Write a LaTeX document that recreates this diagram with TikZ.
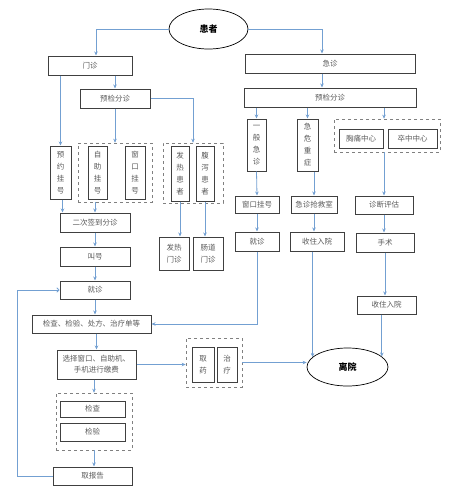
\documentclass[tikz,border=0pt]{standalone}
\usepackage{fontspec}
\setmainfont{Noto Sans CJK SC}
\usetikzlibrary{arrows.meta,shapes.geometric}
\definecolor{boxgray}{RGB}{64,64,64}
\definecolor{txtgray}{RGB}{90,90,90}
\definecolor{arrblue}{RGB}{115,160,210}
\begin{document}
\begin{tikzpicture}
[x=1pt,y=-1pt,
 sz/.style 2 args={minimum width=#1pt,minimum height=#2pt},
 box/.style={draw=boxgray,line width=1pt,text=txtgray,inner sep=0pt,align=center,
   font=\fontsize{7.5}{12}\selectfont},
 grp/.style={draw=gray,dashed,line width=0.6pt,inner sep=0pt},
 term/.style={draw,ellipse,line width=0.7pt,inner sep=0pt,font=\fontsize{9}{11}\selectfont\bfseries},
 arr/.style={draw=arrblue,line width=0.8pt,-{Stealth[length=4pt,width=3.5pt]}},
 back/.style={draw=arrblue,line width=0.8pt,-{To[length=3pt,width=5pt]}}]
\useasboundingbox (0,0) rectangle (450,499);
% top
\node[term,sz={79}{40}] (pt) at (208.5,29) {患者};
\node[box,sz={84}{19}] (mz) at (90,65.5) {门诊};
\node[box,sz={170}{19}] (jz) at (330,63.5) {急诊};
\node[box,sz={70}{19}] (yjL) at (115,98.5) {预检分诊};
\node[box,sz={172}{19}] (yjR) at (330,97.5) {预检分诊};
% outpatient branch
\node[box,sz={21}{53}] (yy) at (60.5,172.5) {预\\约\\挂\\号};
\node[grp,sz={74}{59}] (g1) at (115,172.5) {};
\node[box,sz={19}{53}] (zz) at (97.5,172.5) {自\\助\\挂\\号};
\node[box,sz={20}{53}] (ck) at (135,172.5) {窗\\口\\挂\\号};
\node[grp,sz={60}{60}] (g2) at (193,173) {};
\node[box,sz={18}{55}] (fr) at (180,173.5) {发\\热\\患\\者};
\node[box,sz={18}{55}] (fx) at (205,173.5) {腹\\泻\\患\\者};
\node[box,sz={30}{33}] (frmz) at (174,253.5) {发热\\门诊};
\node[box,sz={30}{33}] (cdmz) at (208,253.5) {肠道\\门诊};
\node[box,sz={70}{19}] (ecqd) at (95,222.5) {二次签到分诊};
\node[box,sz={70}{19}] (jh) at (95,256.5) {叫号};
\node[box,sz={70}{18}] (jzL) at (95,290) {就诊};
\node[box,sz={119}{18}] (jcd) at (91.5,324) {检查、检验、处方、治疗单等};
\node[box,sz={79}{29},font=\fontsize{7.5}{11}\selectfont] (jf) at (96.5,364.5) {选择窗口、自助机、\\手机进行缴费};
\node[grp,sz={56}{49}] (g3) at (214,362.5) {};
\node[box,sz={22}{35}] (qy) at (203,364.5) {取\\药};
\node[box,sz={20}{35}] (zl) at (227,364.5) {治\\疗};
\node[grp,sz={76}{57}] (g4) at (94,421.5) {};
\node[box,sz={65}{16}] (jc) at (92.5,409) {检查};
\node[box,sz={65}{18}] (jy) at (92.5,432) {检验};
\node[box,sz={79}{18}] (qbg) at (92.5,476) {取报告};
% emergency branch
\node[box,sz={19}{52}] (ybjz) at (256.5,145) {一\\般\\急\\诊};
\node[box,sz={21}{52}] (jwzz) at (307.5,145) {急\\危\\重\\症};
\node[grp,sz={106}{33}] (g5) at (387,135.5) {};
\node[box,sz={44}{19}] (xt) at (361,138.5) {胸痛中心};
\node[box,sz={49}{19}] (cz) at (412.5,138.5) {卒中中心};
\node[box,sz={44}{17}] (ckR) at (257,204.5) {窗口挂号};
\node[box,sz={46}{17}] (qjs) at (314,204.5) {急诊抢救室};
\node[box,sz={58}{18}] (zdpg) at (384,205) {诊断评估};
\node[box,sz={44}{19}] (jzR) at (257,241.5) {就诊};
\node[box,sz={54}{19}] (zyM) at (317,241.5) {收住入院};
\node[box,sz={58}{19}] (ss) at (385,242.5) {手术};
\node[box,sz={59}{18}] (zyR) at (386.5,305) {收住入院};
\node[term,sz={81}{38}] (ly) at (347.5,367) {离院};
% arrows
\draw[arr] (pt.west) -| ([xshift=6pt]mz.north);
\draw[arr] (pt.east) -| ([xshift=-8pt]jz.north);
\draw[arr] (yy.north |- mz.south) -- (yy.north);
\draw[arr] (yjL.north |- mz.south) -- (yjL.north);
\draw[arr] (g1.north |- yjL.south) -- (g1.north);
\draw[arr] (yjL.east) -| (g2.north);
\draw[arr] (fr.south) -- (fr.south |- frmz.north);
\draw[arr] (fx.south) -- (fx.south |- cdmz.north);
\draw[arr] ([xshift=2pt]yy.south) -- ([xshift=2pt]yy.south |- ecqd.north);
\draw[arr] (ecqd.north |- g1.south) -- (ecqd.north);
\draw[arr] (ecqd) -- (jh);
\draw[arr] (jh) -- (jzL);
\draw[arr] (jzL) -- (jzL.south |- jcd.north);
\draw[arr] (jf.north |- jcd.south) -- (jf.north);
\draw[arr] (jf.east) -- (jf.east -| g3.west);
\draw[arr] (g3.east) -- (g3.east -| ly.west);
\draw[arr] (g4.north |- jf.south) -- (g4.north);
\draw[arr] (g4.south) -- (g4.south |- qbg.north);
\draw[back] (qbg.west) -- ++(-35,0) |- (jzL.west);
\draw[arr] ([xshift=-8pt]jz.south) -- ([xshift=-8pt]yjR.north);
\draw[arr] (ybjz.north |- yjR.south) -- (ybjz.north);
\draw[arr] (jwzz.north |- yjR.south) -- (jwzz.north);
\draw[arr] (zdpg.north |- yjR.south) -- (zdpg.north |- g5.north);
\draw[arr] (ybjz.south) -- (ckR.north);
\draw[arr] (qjs.north |- jwzz.south) -- (qjs.north);
\draw[arr] (zdpg.north |- g5.south) -- (zdpg.north);
\draw[arr] (ckR) -- (jzR);
\draw[arr] (qjs.south) -- (qjs.south |- zyM.north);
\draw[arr] (zdpg.south) -- (zdpg.south |- ss.north);
\draw[arr] (ss.south) -- (ss.south |- zyR.north);
\draw[arr] (jzR.south) |- (jcd.east);
\draw[arr] (ly.164 |- zyM.south) -- (ly.164);
\draw[arr] (ly.17 |- zyR.south) -- (ly.17);
\end{tikzpicture}
\end{document}
